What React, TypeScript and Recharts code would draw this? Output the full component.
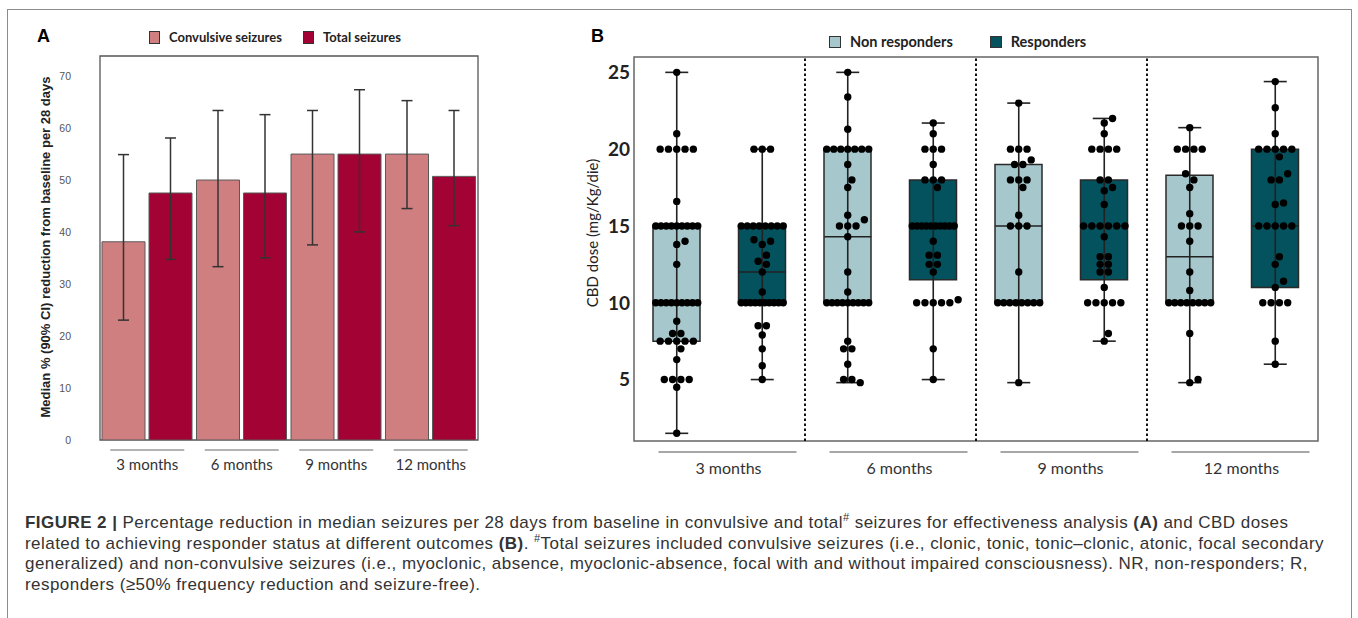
import React from "react"
import {
  ComposedChart,
  Bar,
  XAxis,
  YAxis,
  ErrorBar,
  Scatter,
  Cell,
  ReferenceArea,
  ReferenceLine,
} from "recharts"

// ---------- Panel A: median % reduction (90% CI)
const monthsA = ["3 months", "6 months", "9 months", "12 months"]
const convMedian = [38.2, 50.1, 55.1, 55.1]
const convLow = [23.1, 33.4, 37.6, 44.6]
const convHigh = [55.0, 63.5, 63.5, 65.4]
const totalMedian = [47.6, 47.6, 55.1, 50.8]
const totalLow = [34.8, 35.1, 40.1, 41.3]
const totalHigh = [58.2, 62.7, 67.5, 63.5]
const yTicksA = [0, 10, 20, 30, 40, 50, 60, 70]

const seriesA = [
  { key: "conv", label: "Convulsive seizures", color: "#CF7F80" },
  { key: "total", label: "Total seizures", color: "#A30234" },
]

// ---------- Panel B: CBD dose, non responders vs responders
const monthsB = ["3 months", "6 months", "9 months", "12 months"]
const seriesB = [
  { label: "Non responders", color: "#A6C8CD" },
  { label: "Responders", color: "#03525D" },
]
const yTicksB = [5, 10, 15, 20, 25]

const nr3 = [25, 21, 20, 20, 20, 20, 20, 16.6, 15, 15, 15, 15, 15, 15, 15, 15, 15, 14, 13.8, 12.5,
  10, 10, 10, 10, 10, 10, 10, 10, 10, 8.8, 8, 8, 7.5, 7.5, 7.5, 7.5, 7.5, 7, 6.3, 5, 5, 5, 5, 4.5, 1.5]
const r3 = [20, 20, 20, 15, 15, 15, 15, 15, 15, 15, 15, 14, 13.8, 14.1, 13.1, 12.7, 12.5, 12, 10.7,
  10, 10, 10, 10, 10, 10, 10, 10, 10, 10, 8.5, 8.5, 7.9, 7, 5.9, 5]
const nr6 = [25, 23.4, 21.3, 20, 20, 20, 20, 20, 20, 20, 19, 18, 17.5, 15.7, 15.4, 15, 15, 15, 14.3,
  12, 10.7, 10, 10, 10, 10, 10, 10, 10, 10, 10, 7.5, 7, 7, 6, 5, 5, 4.8]
const r6 = [21.7, 21, 20, 20, 20, 19, 18, 18, 18, 17.5, 15, 15, 15, 15, 15, 15, 15, 15, 15, 15, 14,
  13.1, 13.1, 12.5, 12.5, 12, 10.2, 10, 10, 10, 10, 10, 7, 5]
const nr9 = [23, 20, 20, 20, 19.3, 19, 19, 18, 18, 18, 17.5, 15.7, 15, 15, 15, 12,
  10, 10, 10, 10, 10, 10, 10, 10, 4.8]
const r9 = [22, 21.7, 21, 20, 20, 20, 20, 18, 18, 17.5, 17.3, 16.4, 15, 15, 15, 15, 15, 15, 14.3,
  13, 13, 12.5, 12.5, 12, 12, 11, 10, 10, 10, 10, 10, 8, 7.5]
const nr12 = [21.4, 20, 20, 20, 20, 18.4, 18, 17.5, 15.8, 15, 15, 15, 14, 12, 10.8,
  10, 10, 10, 10, 10, 10, 10, 10, 8, 5, 4.8]
const r12 = [24.4, 22.7, 21, 20, 20, 20, 20, 20, 19.5, 18.4, 18, 18, 16.5, 16.4, 15, 15, 15, 15, 15,
  13, 12.5, 11.4, 11, 10, 10, 10, 10, 7.5, 6]
const boxPoints = [nr3, r3, nr6, r6, nr9, r9, nr12, r12]

const boxMin = [1.5, 5, 4.8, 5, 4.8, 7.5, 4.8, 6]
const boxQ1 = [7.5, 10, 10, 11.5, 10, 11.5, 10, 11]
const boxMedian = [10, 12, 14.3, 15, 15, 15, 13, 15]
const boxQ3 = [15, 15, 20, 18, 19, 18, 18.3, 20]
const boxMax = [25, 20, 25, 21.7, 23, 22, 21.4, 24.4]

// layout of panel B plot (used by the beeswarm to keep dots apart)
const B_PLOT_W = 684
const B_PLOT_H = 384
const B_DOMAIN: [number, number] = [1, 26]
const PX_X = B_PLOT_W / 8
const PX_Y = B_PLOT_H / (B_DOMAIN[1] - B_DOMAIN[0])
const DOT_STEP = 8.3
const MAX_HALF = 21

function swarm(values: number[], center: number) {
  const counts = new Map<number, number>()
  values.forEach((v) => counts.set(v, (counts.get(v) ?? 0) + 1))
  const placed: { dx: number; v: number }[] = []
  const singles: number[] = []
  ;[...counts.entries()]
    .sort((a, b) => a[0] - b[0])
    .forEach(([v, n]) => {
      if (n === 1) {
        singles.push(v)
        return
      }
      const step = Math.min(DOT_STEP, (2 * MAX_HALF) / (n - 1))
      for (let i = 0; i < n; i++) placed.push({ dx: (i - (n - 1) / 2) * step, v })
    })
  singles.forEach((v) => {
    for (let k = 0; k < 60; k++) {
      const dx = k === 0 ? 0 : (k % 2 ? 1 : -1) * Math.ceil(k / 2) * (DOT_STEP / 2)
      const ok = placed.every((p) => Math.hypot(p.dx - dx, (p.v - v) * PX_Y) >= DOT_STEP * 0.95)
      if (ok) {
        placed.push({ dx, v })
        break
      }
    }
  })
  return placed.map((p) => ({ x: center + p.dx / PX_X, y: p.v }))
}

const dataA = monthsA.map((m, i) => ({
  label: m,
  conv: convMedian[i],
  total: totalMedian[i],
  convErr: [convMedian[i] - convLow[i], convHigh[i] - convMedian[i]],
  totalErr: [totalMedian[i] - totalLow[i], totalHigh[i] - totalMedian[i]],
}))

const boxRows = boxMedian.map((_, i) => ({
  slot: `${monthsB[Math.floor(i / 2)]}-${i % 2}`,
  box: [boxQ1[i], boxQ3[i]],
}))
const whiskerRows = boxMedian.map((m, i) => ({
  x: i + 0.5,
  y: m,
  err: [m - boxMin[i], boxMax[i] - m],
}))
const medianRows = boxMedian.map((m, i) => ({ x: i + 0.5, y: m }))
const dotRows = boxPoints.flatMap((pts, i) => swarm(pts, i + 0.5))

const calibri = "Lato, 'Open Sans', sans-serif"
const arial = "'Liberation Sans', Arial, sans-serif"

function MonthTickA(props: any) {
  const { x, y, payload } = props
  return (
    <g>
      <line x1={x - 37} x2={x + 37} y1={y + 10} y2={y + 10} stroke="#9a9a9a" strokeWidth={1.5} />
      <text x={x} y={y + 30} textAnchor="middle" fontSize={15} fill="#333" fontFamily={calibri}>
        {payload.value}
      </text>
    </g>
  )
}

function MonthTickB(props: any) {
  const { x, y, index } = props
  return (
    <g>
      <line x1={x - 61} x2={x + 77} y1={y + 11} y2={y + 11} stroke="#8a8a8a" strokeWidth={1.3} />
      <text x={x + 9} y={y + 33} textAnchor="middle" fontSize={16} fill="#333" fontFamily={calibri}>
        {monthsB[index]}
      </text>
    </g>
  )
}

function Swatch({ color, w, h }: { color: string; w: number; h: number }) {
  return (
    <span
      style={{
        display: "inline-block",
        width: w,
        height: h,
        background: color,
        border: "1px solid #333",
        boxSizing: "border-box",
      }}
    />
  )
}

export default function App() {
  return (
    <div
      style={{
        position: "absolute",
        left: 0,
        top: 0,
        width: 1358,
        height: 618,
        overflow: "hidden",
        background: "#fff",
      }}
    >
      {/* figure frame */}
      <div
        style={{
          position: "absolute",
          left: 7,
          top: 9,
          width: 1343,
          height: 660,
          border: "1px solid #8c8c8c",
        }}
      />

      {/* panel letters */}
      <div style={{ position: "absolute", left: 37, top: 26, fontSize: 18, fontWeight: 700, fontFamily: arial }}>
        A
      </div>
      <div style={{ position: "absolute", left: 591, top: 26, fontSize: 18, fontWeight: 700, fontFamily: arial }}>
        B
      </div>

      {/* legend A */}
      <div style={{ position: "absolute", left: 149, top: 29, display: "flex", alignItems: "center", gap: 21 }}>
        {seriesA.map((s) => (
          <div key={s.key} style={{ display: "flex", alignItems: "center", gap: 9 }}>
            <Swatch color={s.color} w={11} h={13} />
            <span style={{ fontFamily: calibri, fontWeight: 700, fontSize: 13, color: "#222" }}>{s.label}</span>
          </div>
        ))}
      </div>

      {/* legend B */}
      <div style={{ position: "absolute", left: 829, top: 33, display: "flex", alignItems: "center", gap: 37 }}>
        {seriesB.map((s) => (
          <div key={s.label} style={{ display: "flex", alignItems: "center", gap: 9 }}>
            <Swatch color={s.color} w={12} h={12} />
            <span style={{ fontFamily: calibri, fontWeight: 700, fontSize: 14.5, color: "#222" }}>{s.label}</span>
          </div>
        ))}
      </div>

      {/* axis titles */}
      <div
        style={{
          position: "absolute",
          left: 46 - 200,
          top: 247 - 10,
          width: 400,
          height: 20,
          lineHeight: "20px",
          textAlign: "center",
          transform: "rotate(-90deg)",
          fontFamily: arial,
          fontWeight: 700,
          fontSize: 13,
          color: "#222",
        }}
      >
        Median % (90% CI) reduction from baseline per 28 days
      </div>
      <div
        style={{
          position: "absolute",
          left: 592 - 120,
          top: 233 - 10,
          width: 240,
          height: 20,
          lineHeight: "20px",
          textAlign: "center",
          transform: "rotate(-90deg)",
          fontFamily: calibri,
          fontSize: 15,
          color: "#222",
        }}
      >
        CBD dose (mg/Kg/die)
      </div>

      {/* panel A chart */}
      <div style={{ position: "absolute", left: 0, top: 0 }}>
        <ComposedChart
          width={520}
          height={490}
          data={dataA}
          margin={{ top: 56, right: 21, bottom: 10, left: 49 }}
          barCategoryGap={2}
          barGap={4}
          style={{ fontFamily: arial }}
        >
          <ReferenceArea y1={0} y2={74} fill="none" stroke="#555" strokeWidth={1.3} ifOverflow="visible" />
          <XAxis
            dataKey="label"
            type="category"
            padding={{ left: 21, right: 21 }}
            axisLine={false}
            tickLine={false}
            tickSize={0}
            tickMargin={0}
            height={40}
            interval={0}
            tick={<MonthTickA />}
          />
          <YAxis
            domain={[0, 74]}
            ticks={yTicksA}
            width={30}
            axisLine={false}
            tickLine={false}
            tick={{ fontSize: 10.5, fill: "#555" }}
            allowDataOverflow
          />
          {seriesA.map((s) => (
            <Bar
              key={s.key}
              dataKey={s.key}
              fill={s.color}
              stroke="#5a5a5a"
              strokeWidth={1}
              isAnimationActive={false}
            >
              <ErrorBar
                dataKey={`${s.key}Err`}
                width={5.5}
                stroke="#333"
                strokeWidth={1.5}
                isAnimationActive={false}
              />
            </Bar>
          ))}
        </ComposedChart>
      </div>

      {/* panel B chart */}
      <div style={{ position: "absolute", left: 560, top: 0 }}>
        <ComposedChart
          width={780}
          height={490}
          data={boxRows}
          margin={{ top: 57, right: 22, bottom: 9, left: 24 }}
          style={{ fontFamily: calibri }}
        >
          <XAxis xAxisId="cat" dataKey="slot" type="category" hide height={0} />
          <XAxis
            xAxisId="num"
            dataKey="x"
            type="number"
            domain={[0, 8]}
            ticks={[1, 3, 5, 7]}
            axisLine={false}
            tickLine={false}
            tickSize={0}
            tickMargin={0}
            height={40}
            interval={0}
            tick={<MonthTickB />}
            allowDataOverflow
          />
          <YAxis
            dataKey="y"
            domain={B_DOMAIN}
            ticks={yTicksB}
            width={50}
            axisLine={false}
            tickLine={false}
            tickSize={0}
            tickMargin={4}
            tick={{ fontSize: 19, fontWeight: 700, fill: "#222" }}
            allowDataOverflow
          />
          <ReferenceArea
            xAxisId="num"
            x1={0}
            x2={8}
            y1={B_DOMAIN[0]}
            y2={B_DOMAIN[1]}
            fill="none"
            stroke="#666"
            strokeWidth={1.5}
            ifOverflow="visible"
          />
          {[2, 4, 6].map((v) => (
            <ReferenceLine
              key={v}
              xAxisId="num"
              x={v}
              stroke="#111"
              strokeWidth={2}
              strokeDasharray="2.5 2.5"
            />
          ))}
          <Scatter
            xAxisId="num"
            data={whiskerRows}
            shape={() => <g />}
            isAnimationActive={false}
          >
            <ErrorBar
              dataKey="err"
              direction="y"
              width={11.5}
              stroke="#222"
              strokeWidth={1.6}
              isAnimationActive={false}
            />
          </Scatter>
          <Bar
            xAxisId="cat"
            dataKey="box"
            barSize={47}
            stroke="#2a2a2a"
            strokeWidth={1.5}
            isAnimationActive={false}
          >
            {boxRows.map((_, i) => (
              <Cell key={i} fill={seriesB[i % 2].color} />
            ))}
          </Bar>
          <Scatter
            xAxisId="num"
            data={medianRows}
            isAnimationActive={false}
            shape={(p: any) => (
              <line x1={p.cx - 23.5} x2={p.cx + 23.5} y1={p.cy} y2={p.cy} stroke="#222" strokeWidth={1.5} />
            )}
          />
          <Scatter
            xAxisId="num"
            data={dotRows}
            isAnimationActive={false}
            shape={(p: any) => <circle cx={p.cx} cy={p.cy} r={3.7} fill="#000" />}
          />
        </ComposedChart>
      </div>

      {/* caption */}
      <div
        style={{
          position: "absolute",
          left: 25,
          top: 513,
          fontFamily: arial,
          fontSize: 17,
          letterSpacing: 0.45,
          lineHeight: "20.6px",
          color: "#333",
          whiteSpace: "nowrap",
        }}
      >
        <div>
          <b>FIGURE 2 |</b> Percentage reduction in median seizures per 28 days from baseline in convulsive and
          total<sup style={{ fontSize: 11, lineHeight: 0 }}>#</sup> seizures for effectiveness analysis <b>(A)</b> and
          CBD doses
        </div>
        <div>
          related to achieving responder status at different outcomes <b>(B)</b>.{" "}
          <sup style={{ fontSize: 11, lineHeight: 0 }}>#</sup>Total seizures included convulsive seizures (i.e., clonic,
          tonic, tonic–clonic, atonic, focal secondary
        </div>
        <div>
          generalized) and non-convulsive seizures (i.e., myoclonic, absence, myoclonic-absence, focal with and without
          impaired consciousness). NR, non-responders; R,
        </div>
        <div>responders (≥50% frequency reduction and seizure-free).</div>
      </div>
    </div>
  )
}
